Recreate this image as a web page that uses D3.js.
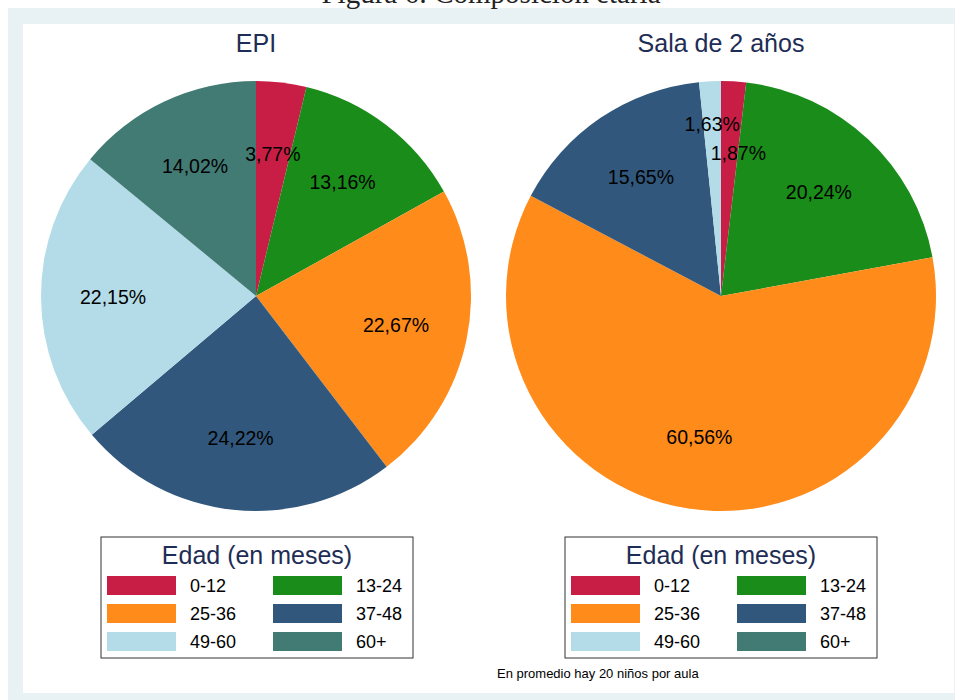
<!DOCTYPE html>
<html>
<head>
<meta charset="utf-8">
<script src="https://cdn.jsdelivr.net/npm/d3@7"></script>
<style>
  body { margin: 0; background: #ffffff; }
  svg { display: block; }
</style>
</head>
<body>
<script>
const categories = ['0-12', '13-24', '25-36', '37-48', '49-60', '60+'];
const epi_values = [3.77, 13.16, 22.67, 24.22, 22.15, 14.02];
const sala_values = [1.87, 20.24, 60.56, 15.65, 1.63, 0];
const panel_titles = ['EPI', 'Sala de 2 años'];
const colors = ['#c81e46', '#1a8c1a', '#fe8b1a', '#31587c', '#b3dce8', '#427b74'];

const _svg_width = 955;
const _svg_height = 700;
const _radius = 215;
const _label_radius = 143;
const _pie_cy = 296;
const _navy = '#1e2d55';
const _font = 'Liberation Sans, Arial, sans-serif';

// the two tiny slices of the second pie have their labels pushed apart
const sala_label_r = [143, 143, 143, 143, 172, 143];
const sala_label_dx = [9, 0, 0, 0, 0, 0];

const svg = d3.select('body')
    .append('svg')
    .attr('width', _svg_width)
    .attr('height', _svg_height);

// outer frame + white plot area
svg.append('rect')
    .attr('x', 8).attr('y', 8)
    .attr('width', _svg_width - 8).attr('height', _svg_height - 8)
    .attr('fill', '#e8f1f3');
svg.append('rect')
    .attr('x', 23).attr('y', 24)
    .attr('width', 931).attr('height', 669)
    .attr('fill', '#ffffff');

// figure caption, cut off at the top
svg.append('text')
    .attr('x', 491).attr('y', 3)
    .attr('text-anchor', 'middle')
    .style('font-family', 'Liberation Serif, DejaVu Serif, serif')
    .style('font-size', '29px')
    .attr('fill', '#222')
    .text('Figura 6: Composición etaria');

const pie = d3.pie().sort(null).value(d => d.value);
const arc = d3.arc().innerRadius(0).outerRadius(_radius);
const fmt = v => d3.format('.2f')(v).replace('.', ',') + '%';

const panels = [
    { cx: 256, values: epi_values, title: panel_titles[0], lx: 101, lr: categories.map(() => _label_radius), ldx: categories.map(() => 0) },
    { cx: 721, values: sala_values, title: panel_titles[1], lx: 565, lr: sala_label_r, ldx: sala_label_dx }
];

panels.forEach(p => {
    const data = categories.map((c, i) => ({ i: i, cat: c, value: p.values[i], color: colors[i] }));
    const g = svg.append('g').attr('transform', `translate(${p.cx},${_pie_cy})`);
    const arcs = pie(data);

    g.selectAll('path.slice')
        .data(arcs.filter(d => d.data.value > 0))
        .join('path')
        .attr('class', 'slice')
        .attr('d', arc)
        .attr('fill', d => d.data.color);

    g.selectAll('text.lbl')
        .data(arcs.filter(d => d.data.value > 0))
        .join('text')
        .attr('class', 'lbl')
        .attr('transform', d => {
            const r = p.lr[d.data.i];
            const c = d3.arc().innerRadius(r).outerRadius(r).centroid(d);
            return `translate(${c[0] + p.ldx[d.data.i]},${c[1]})`;
        })
        .attr('text-anchor', 'middle')
        .attr('dy', '0.35em')
        .style('font-family', _font)
        .style('font-size', '19.5px')
        .attr('fill', '#000')
        .text(d => fmt(d.data.value));

    svg.append('text')
        .attr('x', p.cx).attr('y', 52)
        .attr('text-anchor', 'middle')
        .style('font-family', _font)
        .style('font-size', '25px')
        .attr('fill', _navy)
        .text(p.title);

    // legend
    const lg = svg.append('g').attr('transform', `translate(${p.lx},537)`);
    lg.append('rect')
        .attr('width', 312).attr('height', 121)
        .attr('fill', '#fff')
        .attr('stroke', '#333').attr('stroke-width', 1);
    lg.append('text')
        .attr('x', 156).attr('y', 27)
        .attr('text-anchor', 'middle')
        .style('font-family', _font)
        .style('font-size', '25px')
        .attr('fill', _navy)
        .text('Edad (en meses)');

    const items = lg.selectAll('g.item')
        .data(data)
        .join('g')
        .attr('class', 'item')
        .attr('transform', (d, i) => `translate(${6 + (i % 2) * 166},${39 + Math.floor(i / 2) * 28})`);
    items.append('rect')
        .attr('width', 69).attr('height', 19)
        .attr('fill', d => d.color);
    items.append('text')
        .attr('x', 83).attr('y', 9.5)
        .attr('dy', '0.35em')
        .style('font-family', _font)
        .style('font-size', '18px')
        .attr('fill', '#000')
        .text(d => d.cat);
});

svg.append('text')
    .attr('x', 497).attr('y', 673)
    .attr('dy', '0.35em')
    .style('font-family', _font)
    .style('font-size', '13px')
    .attr('fill', '#000')
    .text('En promedio hay 20 niños por aula');
</script>
</body>
</html>
